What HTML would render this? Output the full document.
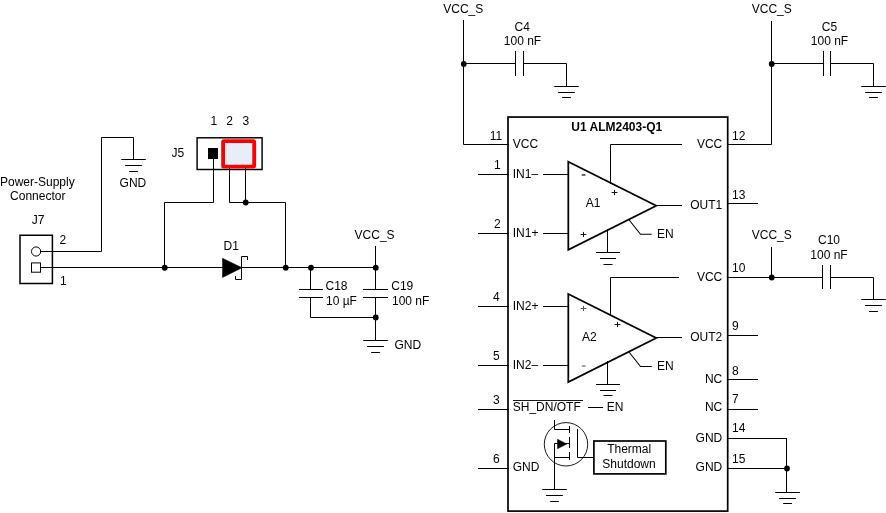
<!DOCTYPE html>
<html><head><meta charset="utf-8"><title>ALM2403-Q1 schematic</title>
<style>
html,body{margin:0;padding:0;background:#fff;}
body{width:886px;height:513px;overflow:hidden;}
svg{display:block;will-change:transform;}
svg text{font-family:"Liberation Sans",sans-serif;font-size:12px;fill:#000;}
</style></head><body>
<svg width="886" height="513" viewBox="0 0 886 513">
<rect x="0" y="0" width="886" height="513" fill="#fff"/>
<rect x="20" y="235.25" width="32.4" height="48.25" fill="#fff" stroke="#000" stroke-width="1.5"/>
<circle cx="36.1" cy="251.5" r="4.6" fill="#fff" stroke="#000" stroke-width="1"/>
<rect x="31.5" y="262.9" width="9" height="9.3" fill="#fff" stroke="#000" stroke-width="1"/>
<text x="0" y="185.75" text-anchor="start" >Power-Supply</text>
<text x="37.75" y="200" text-anchor="middle" >Connector</text>
<text x="38" y="223.75" text-anchor="middle" >J7</text>
<text x="59.4" y="243.75" text-anchor="start" >2</text>
<text x="60" y="284.5" text-anchor="start" >1</text>
<polyline points="40.5,251.5 101.5,251.5 101.5,137.5 133.5,137.5 133.5,159.5" fill="none" stroke="#000" stroke-width="1.0"  stroke-linecap="square"/>
<line x1="121.2" y1="159.5" x2="145.8" y2="159.5" stroke="#000" stroke-width="1.0" />
<line x1="125.1" y1="165.5" x2="141.9" y2="165.5" stroke="#000" stroke-width="1.0" />
<line x1="129.1" y1="171.5" x2="137.9" y2="171.5" stroke="#000" stroke-width="1.0" />
<text x="119.6" y="186.75" text-anchor="start" >GND</text>
<line x1="40.0" y1="267.5" x2="223.0" y2="267.5" stroke="#000" stroke-width="1.0" />
<line x1="241.0" y1="267.5" x2="376.0" y2="267.5" stroke="#000" stroke-width="1.0" />
<circle cx="164.75" cy="267.75" r="2.9" fill="#000"/>
<circle cx="285.75" cy="267.75" r="2.9" fill="#000"/>
<circle cx="311" cy="267.75" r="2.9" fill="#000"/>
<circle cx="375.75" cy="267.75" r="2.9" fill="#000"/>
<polygon points="222.5,258.25 242,267.75 222.5,277.5" fill="#000" stroke="#000" stroke-width="0.5" />
<polyline points="235.5,276.5 235.5,279.5 241.5,279.5 241.5,256.5 247.5,256.5 247.5,259.5" fill="none" stroke="#000" stroke-width="1.0"  stroke-linecap="square"/>
<text x="223.5" y="250" text-anchor="start" >D1</text>
<rect x="197.1" y="137.8" width="65" height="31.7" fill="#fff" stroke="#000" stroke-width="1.45"/>
<rect x="208" y="148" width="10" height="11" fill="#000"/>
<rect x="223.1" y="141.15" width="31.1" height="25.45" rx="0.7" fill="#e8eef7" stroke="#f00" stroke-width="3.8" stroke-linejoin="round"/>
<text x="171.6" y="157" text-anchor="start" >J5</text>
<text x="210.5" y="125" text-anchor="start" >1</text>
<text x="226.25" y="125" text-anchor="start" >2</text>
<text x="242.5" y="125" text-anchor="start" >3</text>
<polyline points="213.5,158.5 213.5,202.5 164.5,202.5 164.5,267.5" fill="none" stroke="#000" stroke-width="1.0"  stroke-linecap="square"/>
<polyline points="229.5,168.5 229.5,202.5 285.5,202.5 285.5,267.5" fill="none" stroke="#000" stroke-width="1.0"  stroke-linecap="square"/>
<line x1="245.5" y1="168.0" x2="245.5" y2="203.0" stroke="#000" stroke-width="1.0" />
<circle cx="245.75" cy="202.5" r="2.9" fill="#000"/>
<line x1="310.5" y1="267.0" x2="310.5" y2="290.0" stroke="#000" stroke-width="1.0" />
<line x1="299.0" y1="289.5" x2="323.0" y2="289.5" stroke="#000" stroke-width="1.0" />
<line x1="299.0" y1="297.5" x2="323.0" y2="297.5" stroke="#000" stroke-width="1.0" />
<polyline points="310.5,297.5 310.5,317.5 375.5,317.5" fill="none" stroke="#000" stroke-width="1.0"  stroke-linecap="square"/>
<text x="325.5" y="290" text-anchor="start" >C18</text>
<text x="326" y="304.5" text-anchor="start" >10 µF</text>
<line x1="375.5" y1="246.0" x2="375.5" y2="290.0" stroke="#000" stroke-width="1.0" />
<line x1="363.0" y1="289.5" x2="388.0" y2="289.5" stroke="#000" stroke-width="1.0" />
<line x1="363.0" y1="297.5" x2="388.0" y2="297.5" stroke="#000" stroke-width="1.0" />
<line x1="375.5" y1="297.0" x2="375.5" y2="341.0" stroke="#000" stroke-width="1.0" />
<circle cx="375.75" cy="317.5" r="2.9" fill="#000"/>
<line x1="363.2" y1="340.5" x2="387.8" y2="340.5" stroke="#000" stroke-width="1.0" />
<line x1="367.1" y1="346.5" x2="383.9" y2="346.5" stroke="#000" stroke-width="1.0" />
<line x1="371.1" y1="352.5" x2="379.9" y2="352.5" stroke="#000" stroke-width="1.0" />
<text x="354.6" y="239" text-anchor="start" >VCC_S</text>
<text x="391.25" y="290" text-anchor="start" >C19</text>
<text x="392" y="304.5" text-anchor="start" >100 nF</text>
<text x="394.5" y="348.5" text-anchor="start" >GND</text>
<rect x="508" y="117.05" width="219.7" height="394.05" fill="none" stroke="#000" stroke-width="1.7"/>
<text x="571.25" y="131" text-anchor="start" font-weight="bold" >U1 ALM2403-Q1</text>
<text x="443.25" y="12.5" text-anchor="start" >VCC_S</text>
<polyline points="463.5,20.5 463.5,144.5 508.5,144.5" fill="none" stroke="#000" stroke-width="1.0"  stroke-linecap="square"/>
<circle cx="463.75" cy="64" r="2.9" fill="#000"/>
<line x1="463.0" y1="63.5" x2="516.0" y2="63.5" stroke="#000" stroke-width="1.0" />
<line x1="515.5" y1="51.0" x2="515.5" y2="76.0" stroke="#000" stroke-width="1.0" />
<line x1="523.5" y1="51.0" x2="523.5" y2="76.0" stroke="#000" stroke-width="1.0" />
<polyline points="523.5,63.5 566.5,63.5 566.5,86.5" fill="none" stroke="#000" stroke-width="1.0"  stroke-linecap="square"/>
<line x1="554.2" y1="86.5" x2="578.8" y2="86.5" stroke="#000" stroke-width="1.0" />
<line x1="558.1" y1="92.5" x2="574.9" y2="92.5" stroke="#000" stroke-width="1.0" />
<line x1="562.1" y1="97.5" x2="570.9" y2="97.5" stroke="#000" stroke-width="1.0" />
<text x="522.25" y="30.5" text-anchor="middle" >C4</text>
<text x="522.5" y="45" text-anchor="middle" >100 nF</text>
<text x="751.75" y="12.5" text-anchor="start" >VCC_S</text>
<polyline points="771.5,21.5 771.5,144.5 728.5,144.5" fill="none" stroke="#000" stroke-width="1.0"  stroke-linecap="square"/>
<circle cx="771.75" cy="64" r="2.9" fill="#000"/>
<line x1="771.0" y1="63.5" x2="824.0" y2="63.5" stroke="#000" stroke-width="1.0" />
<line x1="823.5" y1="51.0" x2="823.5" y2="76.0" stroke="#000" stroke-width="1.0" />
<line x1="830.5" y1="51.0" x2="830.5" y2="76.0" stroke="#000" stroke-width="1.0" />
<polyline points="830.5,63.5 873.5,63.5 873.5,86.5" fill="none" stroke="#000" stroke-width="1.0"  stroke-linecap="square"/>
<line x1="861.2" y1="86.5" x2="885.8" y2="86.5" stroke="#000" stroke-width="1.0" />
<line x1="865.1" y1="92.5" x2="881.9" y2="92.5" stroke="#000" stroke-width="1.0" />
<line x1="869.1" y1="97.5" x2="877.9" y2="97.5" stroke="#000" stroke-width="1.0" />
<text x="829.5" y="30.5" text-anchor="middle" >C5</text>
<text x="829.5" y="45" text-anchor="middle" >100 nF</text>
<text x="751.75" y="238.75" text-anchor="start" >VCC_S</text>
<line x1="771.5" y1="247.0" x2="771.5" y2="278.0" stroke="#000" stroke-width="1.0" />
<circle cx="771.75" cy="277.5" r="2.9" fill="#000"/>
<line x1="728.0" y1="277.5" x2="823.0" y2="277.5" stroke="#000" stroke-width="1.0" />
<line x1="822.5" y1="265.0" x2="822.5" y2="289.0" stroke="#000" stroke-width="1.0" />
<line x1="830.5" y1="265.0" x2="830.5" y2="289.0" stroke="#000" stroke-width="1.0" />
<polyline points="830.5,277.5 873.5,277.5 873.5,299.5" fill="none" stroke="#000" stroke-width="1.0"  stroke-linecap="square"/>
<line x1="861.2" y1="299.5" x2="885.8" y2="299.5" stroke="#000" stroke-width="1.0" />
<line x1="865.1" y1="305.5" x2="881.9" y2="305.5" stroke="#000" stroke-width="1.0" />
<line x1="869.1" y1="311.5" x2="877.9" y2="311.5" stroke="#000" stroke-width="1.0" />
<text x="829" y="244" text-anchor="middle" >C10</text>
<text x="829" y="258.75" text-anchor="middle" >100 nF</text>
<text x="502.1" y="140" text-anchor="end" >11</text>
<text x="512.75" y="148.25" text-anchor="start" >VCC</text>
<line x1="478.0" y1="174.5" x2="509.0" y2="174.5" stroke="#000" stroke-width="1.0" />
<text x="500.6" y="169.25" text-anchor="end" >1</text>
<text x="512.75" y="177.75" text-anchor="start" >IN1–</text>
<line x1="478.0" y1="233.5" x2="509.0" y2="233.5" stroke="#000" stroke-width="1.0" />
<text x="500.6" y="227.75" text-anchor="end" >2</text>
<text x="512.75" y="236.5" text-anchor="start" >IN1+</text>
<line x1="478.0" y1="306.5" x2="509.0" y2="306.5" stroke="#000" stroke-width="1.0" />
<text x="499.7" y="301.25" text-anchor="end" >4</text>
<text x="512.75" y="310" text-anchor="start" >IN2+</text>
<line x1="478.0" y1="365.5" x2="509.0" y2="365.5" stroke="#000" stroke-width="1.0" />
<text x="499.7" y="360" text-anchor="end" >5</text>
<text x="512.75" y="369.25" text-anchor="start" >IN2–</text>
<line x1="478.0" y1="409.5" x2="509.0" y2="409.5" stroke="#000" stroke-width="1.0" />
<text x="499.7" y="403.75" text-anchor="end" >3</text>
<text x="512.75" y="411.25" text-anchor="start" >SH_DN/OTF</text>
<line x1="478.0" y1="468.5" x2="509.0" y2="468.5" stroke="#000" stroke-width="1.0" />
<text x="499.7" y="462.75" text-anchor="end" >6</text>
<text x="512.75" y="471.25" text-anchor="start" >GND</text>
<line x1="513.0" y1="400.5" x2="583.0" y2="400.5" stroke="#000" stroke-width="0.9" />
<line x1="588.0" y1="407.5" x2="603.0" y2="407.5" stroke="#000" stroke-width="1.0" />
<text x="606.75" y="411.25" text-anchor="start" >EN</text>
<text x="732" y="140" text-anchor="start" >12</text>
<text x="722.25" y="148.25" text-anchor="end" >VCC</text>
<line x1="728.0" y1="203.5" x2="758.0" y2="203.5" stroke="#000" stroke-width="1.0" />
<text x="732" y="198.75" text-anchor="start" >13</text>
<text x="722.25" y="209.25" text-anchor="end" >OUT1</text>
<text x="732" y="272" text-anchor="start" >10</text>
<text x="722.25" y="281" text-anchor="end" >VCC</text>
<line x1="728.0" y1="335.5" x2="758.0" y2="335.5" stroke="#000" stroke-width="1.0" />
<text x="732" y="330.25" text-anchor="start" >9</text>
<text x="722.25" y="341.25" text-anchor="end" >OUT2</text>
<line x1="728.0" y1="379.5" x2="758.0" y2="379.5" stroke="#000" stroke-width="1.0" />
<text x="732" y="374.5" text-anchor="start" >8</text>
<text x="722.25" y="383.25" text-anchor="end" >NC</text>
<line x1="728.0" y1="409.5" x2="758.0" y2="409.5" stroke="#000" stroke-width="1.0" />
<text x="732" y="402.5" text-anchor="start" >7</text>
<text x="722.25" y="410.75" text-anchor="end" >NC</text>
<line x1="728.0" y1="438.5" x2="787.0" y2="438.5" stroke="#000" stroke-width="1.0" />
<text x="732" y="432" text-anchor="start" >14</text>
<text x="722.25" y="442.25" text-anchor="end" >GND</text>
<line x1="728.0" y1="468.5" x2="787.0" y2="468.5" stroke="#000" stroke-width="1.0" />
<text x="732" y="462.75" text-anchor="start" >15</text>
<text x="722.25" y="471.25" text-anchor="end" >GND</text>
<line x1="786.5" y1="438.0" x2="786.5" y2="493.0" stroke="#000" stroke-width="1.0" />
<circle cx="787" cy="468.5" r="2.9" fill="#000"/>
<line x1="775.2" y1="492.5" x2="799.8" y2="492.5" stroke="#000" stroke-width="1.0" />
<line x1="779.1" y1="498.5" x2="795.9" y2="498.5" stroke="#000" stroke-width="1.0" />
<line x1="783.1" y1="503.5" x2="791.9" y2="503.5" stroke="#000" stroke-width="1.0" />
<line x1="543.0" y1="174.5" x2="569.0" y2="174.5" stroke="#000" stroke-width="1.0" />
<line x1="543.0" y1="233.5" x2="569.0" y2="233.5" stroke="#000" stroke-width="1.0" />
<polyline points="681.5,144.5 610.5,144.5 610.5,183.5" fill="none" stroke="#000" stroke-width="1.0"  stroke-linecap="square"/>
<line x1="607.5" y1="229.0" x2="607.5" y2="253.0" stroke="#000" stroke-width="1.0" />
<line x1="596.0" y1="252.5" x2="620.0" y2="252.5" stroke="#000" stroke-width="1.0" />
<line x1="600.0" y1="258.5" x2="616.0" y2="258.5" stroke="#000" stroke-width="1.0" />
<line x1="603.5" y1="264.5" x2="612.5" y2="264.5" stroke="#000" stroke-width="1.0" />
<polyline points="629,219.75 640.5,234.25 651.75,234.25" fill="none" stroke="#000" stroke-width="1.1" />
<text x="657" y="238.0" text-anchor="start" >EN</text>
<line x1="656.0" y1="205.5" x2="682.0" y2="205.5" stroke="#000" stroke-width="1.0" />
<polygon points="568.3,161.75 656.25,205.75 568.3,249.75" fill="none" stroke="#000" stroke-width="1.75" stroke-linejoin="miter"/>
<text x="593" y="207" text-anchor="middle" >A1</text>
<line x1="543.0" y1="306.5" x2="569.0" y2="306.5" stroke="#000" stroke-width="1.0" />
<line x1="543.0" y1="365.5" x2="569.0" y2="365.5" stroke="#000" stroke-width="1.0" />
<polyline points="678.5,277.5 610.5,277.5 610.5,315.5" fill="none" stroke="#000" stroke-width="1.0"  stroke-linecap="square"/>
<line x1="607.5" y1="361.0" x2="607.5" y2="385.0" stroke="#000" stroke-width="1.0" />
<line x1="596.0" y1="384.5" x2="620.0" y2="384.5" stroke="#000" stroke-width="1.0" />
<line x1="600.0" y1="390.5" x2="616.0" y2="390.5" stroke="#000" stroke-width="1.0" />
<line x1="603.5" y1="395.5" x2="612.5" y2="395.5" stroke="#000" stroke-width="1.0" />
<polyline points="629,352 640.5,366.5 651.75,366.5" fill="none" stroke="#000" stroke-width="1.1" />
<text x="657" y="370.25" text-anchor="start" >EN</text>
<line x1="656.0" y1="337.5" x2="682.0" y2="337.5" stroke="#000" stroke-width="1.0" />
<polygon points="568.3,294 656.25,338 568.3,382" fill="none" stroke="#000" stroke-width="1.75" stroke-linejoin="miter"/>
<text x="589.3" y="340.75" text-anchor="middle" >A2</text>
<line x1="581.7" y1="174.95" x2="585.5" y2="174.95" stroke="#222" stroke-width="1.4" />
<line x1="611.6" y1="192.5" x2="617.4" y2="192.5" stroke="#111" stroke-width="1.0" />
<line x1="614.5" y1="189.9" x2="614.5" y2="195.1" stroke="#111" stroke-width="1.0" />
<line x1="580.6" y1="234.5" x2="586.4" y2="234.5" stroke="#111" stroke-width="1.0" />
<line x1="583.5" y1="231.9" x2="583.5" y2="237.1" stroke="#111" stroke-width="1.0" />
<line x1="580.6" y1="308.5" x2="586.4" y2="308.5" stroke="#555" stroke-width="1.0" />
<line x1="583.5" y1="305.9" x2="583.5" y2="311.1" stroke="#555" stroke-width="1.0" />
<line x1="614.6" y1="324.5" x2="620.4" y2="324.5" stroke="#111" stroke-width="1.0" />
<line x1="617.5" y1="321.9" x2="617.5" y2="327.1" stroke="#111" stroke-width="1.0" />
<line x1="581.8000000000001" y1="366.05" x2="585.6" y2="366.05" stroke="#666" stroke-width="1.2" />
<circle cx="566.0" cy="444.3" r="21.7" fill="none" stroke="#000" stroke-width="0.9"/>
<polyline points="554.5,420.5 554.5,429.5 569.5,429.5" fill="none" stroke="#000" stroke-width="1.0"  stroke-linecap="square"/>
<line x1="569.5" y1="426.0" x2="569.5" y2="433.0" stroke="#000" stroke-width="1.0" />
<line x1="569.5" y1="437.0" x2="569.5" y2="448.0" stroke="#000" stroke-width="1.0" />
<line x1="569.5" y1="452.0" x2="569.5" y2="460.0" stroke="#000" stroke-width="1.0" />
<polyline points="569.5,457.5 554.5,457.5" fill="none" stroke="#000" stroke-width="1.0"  stroke-linecap="square"/>
<polyline points="569.5,443.5 554.5,443.5 554.5,489.5" fill="none" stroke="#000" stroke-width="1.0"  stroke-linecap="square"/>
<polygon points="557.5,439.25 566.75,444 557.5,448.75" fill="#000" stroke="#000" stroke-width="0.5" />
<polyline points="577.5,429.5 577.5,457.5 593.5,457.5" fill="none" stroke="#000" stroke-width="1.0"  stroke-linecap="square"/>
<line x1="542.2" y1="489.5" x2="566.8" y2="489.5" stroke="#000" stroke-width="1.0" />
<line x1="546.1" y1="495.5" x2="562.9" y2="495.5" stroke="#000" stroke-width="1.0" />
<line x1="550.1" y1="501.5" x2="558.9" y2="501.5" stroke="#000" stroke-width="1.0" />
<rect x="593.9" y="441.0" width="71.9" height="32.9" fill="none" stroke="#000" stroke-width="1.7"/>
<text x="629.2" y="453" text-anchor="middle" >Thermal</text>
<text x="629.0" y="467.5" text-anchor="middle" >Shutdown</text>
</svg>
</body></html>
